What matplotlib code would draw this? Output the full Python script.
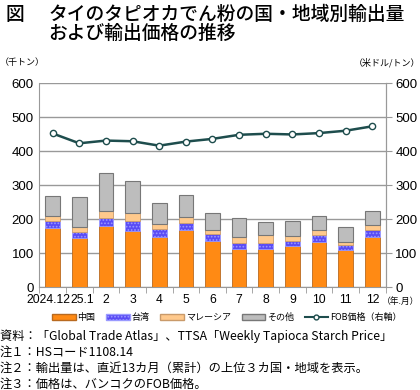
import matplotlib
matplotlib.use("Agg")
import matplotlib.pyplot as plt
import matplotlib.transforms as mtransforms
import numpy as np
from matplotlib.lines import Line2D
from matplotlib.patches import Patch

plt.rcParams['font.family'] = ['Noto Sans CJK JP', 'DejaVu Sans']
plt.rcParams['hatch.linewidth'] = 0.8

months = ["2024.12", "25.1", "2", "3", "4", "5", "6", "7", "8", "9", "10", "11", "12"]
china = [174, 144, 182, 166, 149, 169, 137, 112, 112, 123, 135, 109, 149]
taiwan = [20, 19, 22, 28, 23, 20, 21, 20, 19, 15, 19, 16, 19]
malaysia = [17, 14, 22, 26, 14, 19, 11, 17, 22, 14, 15, 8, 17]
others = [58, 89, 111, 92, 61, 65, 49, 54, 38, 43, 40, 44, 40]
fob = [453, 424, 432, 430, 417, 429, 437, 449, 452, 450, 454, 461, 474]

fig = plt.figure(figsize=(4.2, 3.9), dpi=100)
ax = fig.add_axes([0.0936, 0.263, 0.8247, 0.523])
x = np.arange(len(months))
w = 0.55

c_cn, c_tw, c_my, c_ot = '#FF8A14', '#5A4BF5', '#FFC98C', '#BDBDBD'
b1 = np.array(china)
b2 = b1 + np.array(taiwan)
b3 = b2 + np.array(malaysia)
ax.bar(x, china, w, color=c_cn, edgecolor='#B86A20', linewidth=0.6, zorder=3)
ax.bar(x, taiwan, w, bottom=b1, color=c_tw, edgecolor='#9A9AFF', hatch='.....', linewidth=0.6, zorder=3)
ax.bar(x, malaysia, w, bottom=b2, color=c_my, edgecolor='#C99A6A', linewidth=0.6, zorder=3)
ax.bar(x, others, w, bottom=b3, color=c_ot, edgecolor='#777777', linewidth=0.8, zorder=3)

ax.set_ylim(0, 600)
ax.set_xlim(-0.5, len(months) - 0.5)
ax.set_yticks(range(0, 601, 100))
ax.yaxis.grid(True, color='#999999', linewidth=1.0, zorder=0)
ax.set_axisbelow(True)
ax.spines['top'].set_visible(False)
ax.spines['left'].set_color('#999999')
ax.spines['right'].set_color('#999999')
ax.spines['bottom'].set_color('#999999')
ax.tick_params(axis='y', length=0, labelsize=9.5, pad=4)
for lab in ax.get_yticklabels():
    lab.set_family(['Liberation Sans', 'DejaVu Sans'])

ax.set_xticks(x)
ax.set_xticklabels(months, fontsize=8.7, family=['Liberation Sans', 'DejaVu Sans'])
ax.tick_params(axis='x', length=0, pad=5)
ax.set_xticks(np.arange(-0.5, len(months), 1), minor=True)
ax.tick_params(axis='x', which='minor', length=4, color='#999999', direction='out')
xl = ax.get_xticklabels()
xl[0].set_transform(xl[0].get_transform() + mtransforms.ScaledTranslation(-4 / 100, 0, fig.dpi_scale_trans))
xl[1].set_transform(xl[1].get_transform() + mtransforms.ScaledTranslation(3 / 100, 0, fig.dpi_scale_trans))

ax2 = ax.twinx()
ax2.set_ylim(0, 600)
ax2.set_yticks(range(0, 601, 100))
ax2.plot(x, fob, color='#1E4D4D', linewidth=1.8, marker='o', markersize=4.5,
         markerfacecolor='white', markeredgecolor='#1E4D4D', markeredgewidth=1.0, zorder=5)
for s in ['top', 'left', 'bottom']:
    ax2.spines[s].set_visible(False)
ax2.spines['right'].set_color('#999999')
ax2.tick_params(axis='y', length=4, color='#999999', labelsize=9.5, pad=3)
for lab in ax2.get_yticklabels():
    lab.set_family(['Liberation Sans', 'DejaVu Sans'])

fig.text(0.012, 0.962, "図", fontsize=13.5, fontweight='medium', va='center')
fig.text(0.115, 0.962, "タイのタピオカでん粉の国・地域別輸出量", fontsize=13.5, fontweight='medium', va='center')
fig.text(0.115, 0.913, "および輸出価格の推移", fontsize=13.5, fontweight='medium', va='center')
fig.text(0.0, 0.84, "（千トン）", fontsize=6.5, va='center')
fig.text(1.0, 0.84, "（米ドル/トン）", fontsize=6.5, va='center', ha='right')
fig.text(0.998, 0.228, "（年.月）", fontsize=6.3, va='center', ha='right')

handles = [Patch(facecolor=c_cn, edgecolor='#B86A20'),
           Patch(facecolor=c_tw, edgecolor='#9A9AFF', hatch='.....'),
           Patch(facecolor=c_my, edgecolor='#C99A6A'),
           Patch(facecolor=c_ot, edgecolor='#777777'),
           Line2D([0], [0], color='#1E4D4D', linewidth=1.5, marker='o', markersize=3.5,
                  markerfacecolor='white', markeredgecolor='#1E4D4D')]
labels = ["中国", "台湾", "マレーシア", "その他", "FOB価格（右軸）"]
fig.legend(handles, labels, loc='center', bbox_to_anchor=(0.54, 0.185), ncol=5, frameon=False,
           fontsize=6.5, handlelength=2.6, handleheight=0.6, columnspacing=1.2, handletextpad=0.2)

notes = ["資料：「Global Trade Atlas」、TTSA「Weekly Tapioca Starch Price」",
         "注１：HSコード1108.14",
         "注２：輸出量は、直近13カ月（累計）の上位３カ国・地域を表示。",
         "注３：価格は、バンコクのFOB価格。"]
for i, t in enumerate(notes):
    fig.text(0.0, 0.137 - i * 0.041, t, fontsize=8.8, va='center')

fig.savefig("out.png", dpi=100)
